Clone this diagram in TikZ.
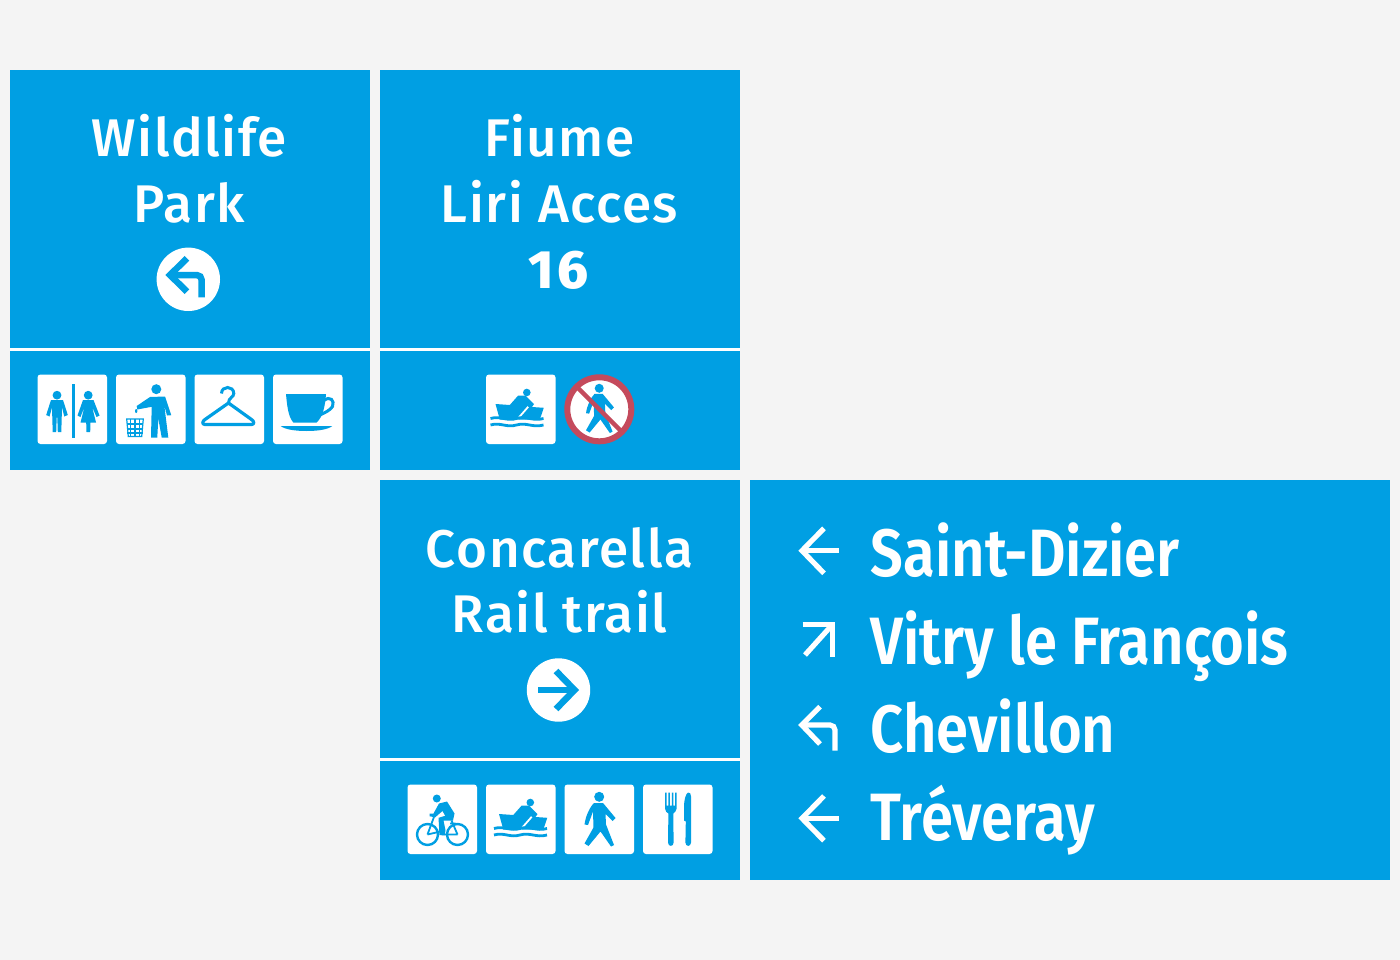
\documentclass[tikz,border=0pt]{standalone}
\usepackage{fontspec}
\newfontfamily\signfont[LetterSpace=3]{Fira Sans Medium}
\newfontfamily\numfont[LetterSpace=6]{Fira Sans ExtraBold}
\newfontfamily\destfont[FakeStretch=0.865]{Fira Sans SemiBold}
\definecolor{paper}{HTML}{F4F4F4}
\definecolor{signblue}{HTML}{009FE3}
\definecolor{banred}{HTML}{C44A5C}
\tikzset{
	panel/.style={fill=signblue,draw=none},
	rule/.style={draw=white,line width=3pt},
	tile/.style={fill=white,draw=none,rounded corners=3pt},
	icon/.style={fill=signblue,draw=none},
	iconline/.style={draw=signblue,fill=none,line width=#1},
	iconline/.default=2pt,
	title/.style={text=white,anchor=base,font=\signfont\fontsize{53}{53}\selectfont,inner sep=0pt},
	dest/.style={text=white,anchor=base west,font=\destfont\fontsize{67}{67}\selectfont,inner sep=0pt},
	pointer/.style={draw=white,fill=none,line width=5.2pt,miter limit=10},
	discarrow/.style={draw=signblue,fill=none,line width=6.5pt,miter limit=10},
	pics/toilets/.style={code={
		\fill[icon] (34.3,9.7) rectangle (37,63);
		\fill[icon] (19.5,20.7) circle (4.4);
		\fill[icon] (50.7,20.7) circle (4.4);
		\fill[icon] (13.5,25.5) -- (25.5,25.5) -- (30.3,40.5) -- (26.8,42) -- (24.5,33) -- (23.8,57.5) -- (20.3,57.5) -- (19.8,43) -- (19.2,43) -- (18.7,57.5) -- (15.2,57.5) -- (14.5,33) -- (12,42) -- (8.7,40.5) -- cycle;
		\fill[icon] (45.5,25.5) -- (56,25.5) -- (62,41) -- (59,42.5) -- (54.5,32) -- (58.5,48) -- (53,48) -- (52.7,57.5) -- (49,57.5) -- (48.7,48) -- (43,48) -- (47,32) -- (43,42.5) -- (40,41) -- cycle;
	}},
	pics/litter/.style={code={
		\fill[icon] (40.3,14.7) circle (5);
		\fill[icon] (20.7,31.5) -- (34,22.5) -- (49,22) -- (55.3,40.7) -- (51,41) -- (48.3,31) -- (52.3,63) -- (45.7,63) -- (42.3,44) -- (41.3,63) -- (35,63) -- (35.7,32.3) -- (21.3,35) -- cycle;
		\fill[icon] (20.2,36.5) ellipse (1.2 and 2);
		\draw[iconline=1.2pt] (10.7,44.5) -- (27.3,44.5) -- (25.7,62) -- (12.3,62) -- cycle;
		\foreach \lx in {14.8,19,23.2}
			\draw[iconline=1.2pt] (\lx,44.5) -- (\lx,62);
		\foreach \ly in {49.5,54.5,58.5}
			\draw[iconline=1.2pt] (11.2,\ly) -- (26.8,\ly);
	}},
	pics/hanger/.style={code={
		\draw[iconline=3pt] (27,19) .. controls (27,11) and (39.3,11) .. (39.3,19) .. controls (39.3,23) and (34,23) .. (34,28.5);
		\draw[iconline=3.2pt,line join=round] (34,28.5) -- (57,45) .. controls (60,47) and (60,50) .. (57,50) -- (10.5,50) .. controls (7.5,50) and (7.5,47) .. (10.5,45) -- cycle;
	}},
	pics/cup/.style={code={
		\fill[icon] (13,19.7) -- (53,19.7) .. controls (52,32) and (50,42) .. (43.7,48) -- (20.3,48) .. controls (15,42) and (14,30) .. (13,19.7) -- cycle;
		\draw[iconline=3pt] (51,26) .. controls (57,21) and (62,26) .. (59.5,32) .. controls (57,36) and (52,38) .. (46,41);
		\fill[icon] (7.7,51.5) -- (59.3,51.5) .. controls (55,55) and (45,56.5) .. (33.7,56.5) .. controls (22,56.5) and (12,55) .. (7.7,51.5) -- cycle;
	}},
	pics/cyclist/.style={code={
		\fill[icon] (29.3,14) circle (4);
		\draw[iconline=2.4pt] (20,50) circle (10.5);
		\draw[iconline=2.4pt] (50,50) circle (10.5);
		\fill[icon] (31.5,19) -- (39.5,17) -- (47,29) -- (45.5,36) -- (36,36) -- (38,45.7) -- (37.3,50.7) -- (32,50.7) -- (31,33.3) -- (37.7,31.3) -- (35,26.5) -- (27.7,32.8) -- (22,31.8) -- (22,29) -- (26,29) -- cycle;
		\draw[iconline=1.8pt] (20,50) -- (27,31) (50,50) -- (44,36) (42.7,39) -- (48,39) (34,50) -- (50,50) (20,50) -- (33,47);
	}},
	pics/rower/.style={code={
		\fill[icon] (44.3,18) circle (3.8);
		\fill[icon] (13,29.5) -- (27.3,30.5) -- (35.7,21) -- (42.8,21) -- (51.5,29.5) -- (49.5,32.5) -- (61.3,33.3) -- (57.3,45) -- (17.3,45) -- cycle;
		\draw[draw=white,line width=1.8pt] (45.7,32.3) -- (34,45.7);
		\draw[iconline=2.8pt] (8,44) .. controls (18,41) and (24,47) .. (34,44) .. controls (44,41) and (50,47) .. (61,44);
		\draw[iconline=2.8pt] (8,50.5) .. controls (18,47.5) and (24,53.5) .. (34,50.5) .. controls (44,47.5) and (50,53.5) .. (61,50.5);
	}},
	pics/walker/.style={code={
		\fill[icon] (34.7,12.3) circle (5);
		\fill[icon] (29.5,18.5) -- (38.5,18.5) -- (51,33.5) -- (48,36.5) -- (41,29.5) -- (41.5,40) -- (49.5,60.5) -- (46.5,62) -- (36,47) -- (24,61.5) -- (20,59) -- (29,43) -- (28.5,27) -- (23.5,40.5) -- (20,40) .. controls (21,32) and (25,23) .. (29.5,18.5) -- cycle;
	}},
	pics/cutlery/.style={code={
		\fill[icon] (22,8) -- (23.5,8) -- (23.5,21) -- (25.3,21) -- (25.3,8) -- (26.8,8) -- (26.8,21) -- (28.8,21) -- (28.8,8) -- (30.3,8) -- (30.3,21) -- (32.2,21) -- (32.2,8) -- (33.7,8) -- (33.7,24) .. controls (33.7,27) and (31,28) .. (30.3,29) -- (30.6,58) .. controls (30.6,62.5) and (25,62.5) .. (25,58) -- (25.4,29) .. controls (24,28) and (22,27) .. (22,24) -- cycle;
		\fill[icon] (45,8) .. controls (47,8) and (48,9) .. (48,12) -- (48,58) .. controls (48,62.5) and (42.4,62.5) .. (42.4,58) -- (42.8,37) -- (41,36) -- (41,22) .. controls (41,15) and (43,9) .. (45,8) -- cycle;
	}},
}
\begin{document}
\begin{tikzpicture}[x=1pt,y=-1pt]
	% Grund
	\fill[paper] (0,0) rectangle (1400,960);
	% Schilder
	\foreach \ax/\ay/\bx/\by in {10/70/370/470,380/70/740/470,380/480/740/880,750/480/1390/880}
		\fill[panel] (\ax,\ay) rectangle (\bx,\by);
	\draw[rule] (10,349.7) -- (370,349.7);
	\draw[rule] (380,349.7) -- (740,349.7);
	\draw[rule] (380,759.7) -- (740,759.7);

	% Titel
	\node[title] (wildlife) at (189.5,157) {Wildlife};
	\node[title] (park) at (189.5,222.5) {Park};
	\node[title] (fiume) at (559.5,157) {Fiume};
	\node[title] (liri) at (559.5,222.5) {Liri Acces};
	\node[title,font=\numfont\fontsize{54}{54}\selectfont] (number) at (558.5,288) {16};
	\node[title] (concarella) at (559.5,567) {Concarella};
	\node[title] (railtrail) at (559.5,632) {Rail trail};

	% Ziele
	\node[dest] (dizier) at (870.5,576) {Saint-Dizier};
	\node[dest] (vitry) at (870.5,664) {Vitry le François};
	\node[dest] (chevillon) at (870.5,752) {Chevillon};
	\node[dest] (treveray) at (870.5,840) {Tréveray};

	% Pfeile rechts
	\draw[pointer] (824,528.3) -- (802,550.7) -- (824,573.3);
	\draw[pointer] (802,550.7) -- (839.3,550.7);
	\draw[pointer] (802.7,624.5) -- (832.5,624.5) -- (832.5,656.7);
	\draw[pointer] (805,655) -- (832.5,624.5);
	\draw[pointer] (820,706.7) -- (801.8,725) -- (820,744);
	\draw[pointer,rounded corners=5pt] (801.8,725) -- (835,725) -- (835,750.5);
	\draw[pointer] (824,796) -- (802,818.3) -- (824,840.7);
	\draw[pointer] (802,818.3) -- (839.3,818.3);

	% Kreise
	\fill[white] (188.3,279.3) circle (31.7);
	\draw[discarrow] (187,258.3) -- (170,275) -- (187,291.7);
	\draw[discarrow,rounded corners=5pt] (170,275) -- (201.7,275) -- (201.7,297.3);
	\fill[white] (558.5,690) circle (31.7);
	\draw[discarrow] (556,671) -- (574.5,690) -- (556,709);
	\draw[discarrow] (574.5,690) -- (538,690);

	% Piktogramme
	\foreach \x/\icon in {37.5/toilets,116/litter,194.5/hanger,273/cup}{
		\fill[tile] (\x,374.5) rectangle +(69.5,69.5);
		\pic at (\x,374.5) {\icon};
	}
	\foreach \x/\icon in {407.5/cyclist,486/rower,564.5/walker,643/cutlery}{
		\fill[tile] (\x,784.5) rectangle +(69.5,69.5);
		\pic at (\x,784.5) {\icon};
	}
	\fill[tile] (486,374.5) rectangle +(69.5,69.5);
	\pic at (482.5,374.5) {rower};

	% Verbot
	\draw[draw=banred,fill=white,line width=6pt] (599.3,409.3) circle (32);
	\pic[scale=.9] at (568,377.2) {walker};
	\draw[draw=banred,line width=4.5pt] (577,387) -- (621.6,431.6);
\end{tikzpicture}
\end{document}
